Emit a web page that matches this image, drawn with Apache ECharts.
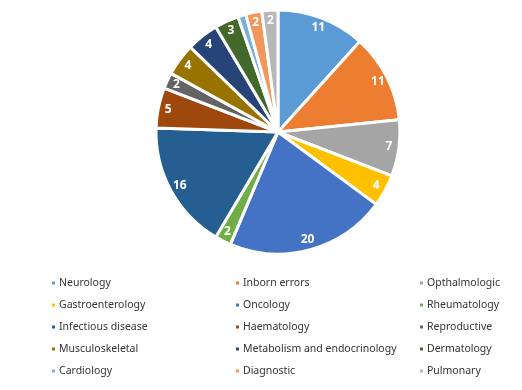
<!DOCTYPE html>
<html><head><meta charset="utf-8">
<script src="https://cdn.jsdelivr.net/npm/echarts@6/dist/echarts.min.js"></script>
<style>html,body{margin:0;padding:0;background:#fff}#c{width:522px;height:390px}</style>
</head><body><div id="c"></div>
<script>
const categories = ["Neurology","Inborn errors","Opthalmologic","Gastroenterology","Oncology","Rheumatology","Infectious disease","Haematology","Reproductive","Musculoskeletal","Metabolism and endocrinology","Dermatology","Cardiology","Diagnostic","Pulmonary"];
const values = [11,11,7,4,20,2,16,5,2,4,4,3,1,2,2];
const labels = ["11","11","7","4","20","2","16","5","2","4","4","3","","2","2"];
const colors = ["#5B9BD5","#ED7D31","#A5A5A5","#FFC000","#4472C4","#70AD47","#255E91","#9E480E","#636363","#997300","#264478","#43682B","#7CAFDD","#F1975A","#B7B7B7"];

const data = categories.map((n,i)=>({name:n,value:values[i],itemStyle:{color:colors[i]}}));
const labelData = categories.map((n,i)=>({name:n,value:values[i],label:{formatter:labels[i]}}));
const cols = [[],[],[]];
categories.forEach((n,i)=>cols[i%3].push(n));
const lefts = [45, 229, 413];
const legends = cols.map((c,k)=>({
  data:c, orient:'vertical', left:lefts[k], top:267, height:200, width:180, itemWidth:5, itemHeight:5, itemGap:0,
  icon:'rect', selectedMode:false,
  textStyle:{fontFamily:'Noto Sans', fontSize:10.5, color:'#333', lineHeight:22, padding:[0,0,0,-2]}
}));
const chart = echarts.init(document.getElementById('c'));
chart.setOption({
  animation:false,
  legend: legends,
  series:[
    {type:'pie', center:[278,132], radius:122, startAngle:90, clockwise:true,
     data:data, label:{show:false}, labelLine:{show:false},
     itemStyle:{borderColor:'#fff', borderWidth:3}, silent:true},
    {type:'pie', center:[278,132], radius:[96,122], startAngle:90, clockwise:true,
     data:labelData, itemStyle:{color:'rgba(0,0,0,0)'}, silent:true, legendHoverLink:false,
     label:{show:true, position:'inside', color:'#fff', fontWeight:'bold', fontSize:12, fontFamily:'Open Sans'},
     labelLine:{show:false}}
  ]
});
</script></body></html>
